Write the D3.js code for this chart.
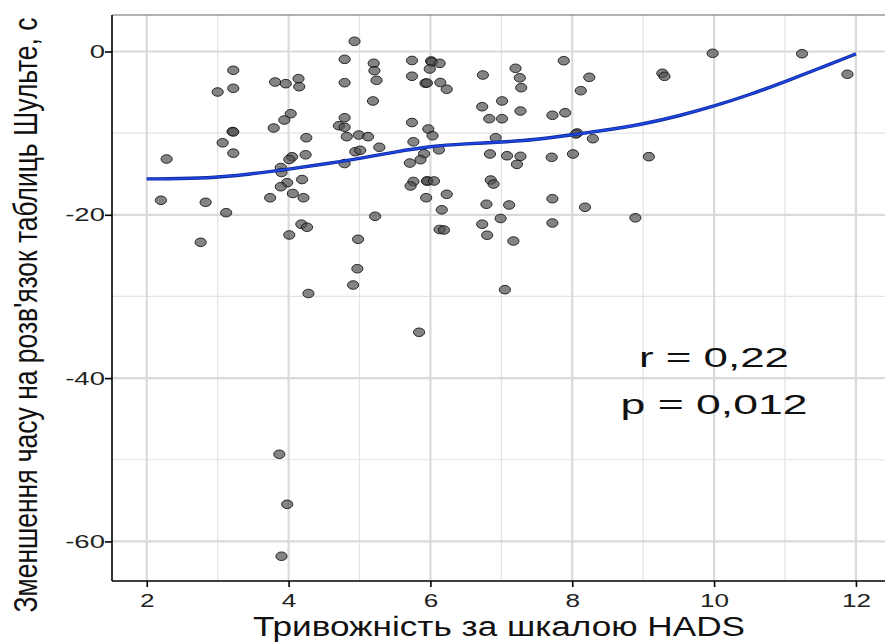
<!DOCTYPE html>
<html>
<head>
<meta charset="utf-8">
<script src="https://cdn.jsdelivr.net/npm/d3@7"></script>
<style>
  body { margin: 0; background: #fff; }
  text { font-family: "Liberation Sans", Arial, sans-serif; }
</style>
</head>
<body>
<svg id="chart" width="885" height="642"></svg>
<script>
// anxiety score (HADS) per person
const anxiety = [
  4.93, 4.79, 5.20, 5.21, 5.24, 3.22, 3.22, 3.00, 3.81, 3.96, 4.14, 4.15, 4.79, 5.19,
  4.03, 3.94, 4.79, 3.79, 4.71, 4.79, 4.82, 3.21, 3.22, 4.99, 5.12, 4.25, 3.07, 3.22,
  5.28, 4.94, 5.01, 4.24, 4.05, 4.01, 2.28, 3.89, 4.79, 3.90, 3.98, 3.89, 4.19, 4.06,
  3.74, 4.21, 2.20, 2.83, 3.12, 5.22, 4.18, 4.26, 4.01, 2.76, 4.98, 4.97, 4.91, 4.28,
  3.87, 3.98, 3.90,
  5.74, 6.01, 6.02, 6.13, 5.99, 5.74, 5.93, 5.95, 6.14, 6.23, 6.74, 7.20, 7.26, 7.28,
  7.88, 8.24, 8.12, 9.27, 9.30, 7.01, 6.73, 6.83, 7.01, 7.27, 7.72, 7.90, 5.74, 5.97,
  6.03, 5.76, 6.12, 5.91, 5.86, 5.71, 6.92, 6.84, 7.08, 7.27, 7.22, 7.71, 8.01, 8.07,
  8.05, 8.29, 9.08, 5.76, 5.72, 5.96, 5.95, 6.05, 5.94, 6.23, 6.16, 6.85, 6.89, 6.79,
  7.11, 7.72, 8.18, 8.89, 6.99, 6.73, 6.80, 7.17, 7.72, 6.13, 6.19, 7.05, 5.84,
  9.98, 11.24, 11.88
];
// change of time on Schulte tables, s
const timeChange = [
  1.25, -0.96, -1.45, -2.35, -3.53, -2.30, -4.51, -4.96, -3.74, -3.94, -3.33, -4.31, -3.82, -6.06,
  -7.62, -8.39, -8.11, -9.37, -9.09, -9.28, -10.43, -9.80, -9.85, -10.23, -10.43, -10.56, -11.18, -12.45,
  -11.73, -12.27, -12.10, -12.65, -12.90, -13.23, -13.17, -14.21, -13.72, -14.82, -16.07, -16.56, -15.68, -17.39,
  -17.91, -17.91, -18.22, -18.47, -19.74, -20.18, -21.15, -21.52, -22.47, -23.37, -23.00, -26.60, -28.60, -29.64,
  -49.33, -55.46, -61.82,
  -1.10, -1.16, -1.29, -1.45, -2.14, -3.03, -3.89, -3.85, -3.80, -4.62, -2.88, -2.06, -3.22, -4.43,
  -1.13, -3.16, -4.80, -2.67, -3.04, -6.06, -6.76, -8.23, -8.23, -7.29, -7.81, -7.50, -8.70, -9.49,
  -10.32, -11.06, -12.04, -12.52, -13.25, -13.66, -10.56, -12.55, -12.77, -12.84, -13.82, -12.96, -12.55, -9.98,
  -10.10, -10.68, -12.88, -15.92, -16.47, -15.86, -15.86, -15.86, -17.91, -17.49, -19.39, -15.74, -16.23, -18.71,
  -18.80, -18.03, -19.08, -20.37, -20.45, -21.15, -22.50, -23.21, -21.00, -21.80, -21.86, -29.17, -34.39,
  -0.22, -0.27, -2.79
];

// smoothed (loess) curve
const smoothX = [2.0, 2.75, 3.5, 4.0, 4.5, 5.0, 5.5, 6.0, 6.5, 7.0, 7.5, 8.0, 8.5, 9.0, 9.5, 10.0, 10.5, 11.0, 11.5, 12.0];
const smoothY = [-15.6, -15.6, -15.0, -14.4, -13.8, -13.1, -12.3, -11.6, -11.3, -11.1, -10.8, -10.2, -9.6, -8.9, -7.9, -6.7, -5.3, -3.7, -2.0, -0.3];

const xTicks = [2, 4, 6, 8, 10, 12];
const xMinor = [3, 5, 7, 9, 11];
const yTicks = [0, -20, -40, -60];
const yMinor = [-10, -30, -50];

const statLines = ["r = 0,22", "p = 0,012"];
const xTitle = "Тривожність за шкалою HADS";
const yTitle = "Зменшення часу на розв'язок таблиць Шульте, с";

//////////////////////////
// setup
//////////////////////////
const svg = d3.select("#chart");
const panel = {left: 112, right: 885, top: 15, bottom: 581};
const sx = 1.45; // picture is stretched sideways

let x = d3.scaleLinear()
  .domain([1.51, 12.41])
  .range([panel.left, panel.right]);

let y = d3.scaleLinear()
  .domain([4.47, -64.85])
  .range([panel.top, panel.bottom]);

//grid
let grid = svg.append("g");
grid.selectAll(".vminor").data(xMinor).enter().append("line")
  .attr("x1", d => x(d)).attr("x2", d => x(d))
  .attr("y1", panel.top).attr("y2", panel.bottom)
  .attr("stroke", "#e3e3e3").attr("stroke-width", 1.2);
grid.selectAll(".hminor").data(yMinor).enter().append("line")
  .attr("x1", panel.left).attr("x2", panel.right)
  .attr("y1", d => y(d)).attr("y2", d => y(d))
  .attr("stroke", "#e3e3e3").attr("stroke-width", 1.2);
grid.selectAll(".vmajor").data(xTicks).enter().append("line")
  .attr("x1", d => x(d)).attr("x2", d => x(d))
  .attr("y1", panel.top).attr("y2", panel.bottom)
  .attr("stroke", "#dadada").attr("stroke-width", 2.2);
grid.selectAll(".hmajor").data(yTicks).enter().append("line")
  .attr("x1", panel.left).attr("x2", panel.right)
  .attr("y1", d => y(d)).attr("y2", d => y(d))
  .attr("stroke", "#dadada").attr("stroke-width", 2.2);

//top border
svg.append("line")
  .attr("x1", panel.left).attr("x2", panel.right)
  .attr("y1", panel.top).attr("y2", panel.top)
  .attr("stroke", "#666").attr("stroke-width", 1.2);

//points
const pts = anxiety.map((d, i) => ({x: d, y: timeChange[i]}));
svg.append("g")
  .selectAll("ellipse")
  .data(pts)
  .enter()
  .append("ellipse")
  .attr("cx", d => x(d.x))
  .attr("cy", d => y(d.y))
  .attr("rx", 5.6)
  .attr("ry", 4.3)
  .attr("fill", "#505050")
  .attr("fill-opacity", 0.7)
  .attr("stroke", "#111")
  .attr("stroke-opacity", 0.85)
  .attr("stroke-width", 1);

//smooth line
const curve = d3.line()
  .x(d => x(d[0]))
  .y(d => y(d[1]))
  .curve(d3.curveBasis);
const smooth = smoothX.map((d, i) => [d, smoothY[i]]);
svg.append("path")
  .attr("d", curve(smooth))
  .attr("fill", "none")
  .attr("stroke", "#0d2a9e")
  .attr("stroke-width", 3.4);
svg.append("path")
  .attr("d", curve(smooth))
  .attr("fill", "none")
  .attr("stroke", "#1f45e0")
  .attr("stroke-width", 1.8);

//axes
let yAxis = svg.append("g")
  .attr("transform", `translate(${panel.left},0)`)
  .call(d3.axisLeft(y).tickValues(yTicks).tickSize(7).tickSizeOuter(0));
yAxis.select(".domain").attr("stroke", "#000").attr("stroke-width", 1.6)
  .attr("d", `M0,${panel.top}V${panel.bottom}`);
yAxis.selectAll(".tick line").attr("stroke", "#000").attr("stroke-width", 1.6);
yAxis.selectAll(".tick text")
  .attr("x", 0)
  .attr("transform", "translate(-7,0) scale(" + sx + ",1)")
  .attr("font-size", 19)
  .attr("fill", "#222")
  .text(d => String(d));

let xAxis = svg.append("g")
  .attr("transform", `translate(0,${panel.bottom})`)
  .call(d3.axisBottom(x).tickValues(xTicks).tickSize(6).tickSizeOuter(0).tickPadding(7));
xAxis.select(".domain").attr("stroke", "#000").attr("stroke-width", 1.6)
  .attr("d", `M${panel.left},0H${panel.right}`);
xAxis.selectAll(".tick line").attr("stroke", "#000").attr("stroke-width", 1.6);
xAxis.selectAll(".tick text")
  .attr("transform", "scale(" + sx + ",1)")
  .attr("font-size", 18)
  .attr("fill", "#222");

//correlation text
svg.append("text")
  .attr("transform", "translate(714,367)")
  .attr("text-anchor", "middle")
  .attr("font-size", 28)
  .attr("textLength", 150)
  .attr("lengthAdjust", "spacingAndGlyphs")
  .attr("fill", "#111")
  .text(statLines[0]);
svg.append("text")
  .attr("transform", "translate(714,414)")
  .attr("text-anchor", "middle")
  .attr("font-size", 28)
  .attr("textLength", 187)
  .attr("lengthAdjust", "spacingAndGlyphs")
  .attr("fill", "#111")
  .text(statLines[1]);

//titles
svg.append("text")
  .attr("transform", "translate(499,635.5)")
  .attr("text-anchor", "middle")
  .attr("font-size", 27)
  .attr("textLength", 492)
  .attr("lengthAdjust", "spacingAndGlyphs")
  .attr("fill", "#111")
  .text(xTitle);

svg.append("text")
  .attr("transform", "translate(37,315) scale(1.4,1) rotate(-90)")
  .attr("text-anchor", "middle")
  .attr("font-size", 24)
  .attr("textLength", 595)
  .attr("lengthAdjust", "spacingAndGlyphs")
  .attr("fill", "#111")
  .text(yTitle);
</script>
</body>
</html>
